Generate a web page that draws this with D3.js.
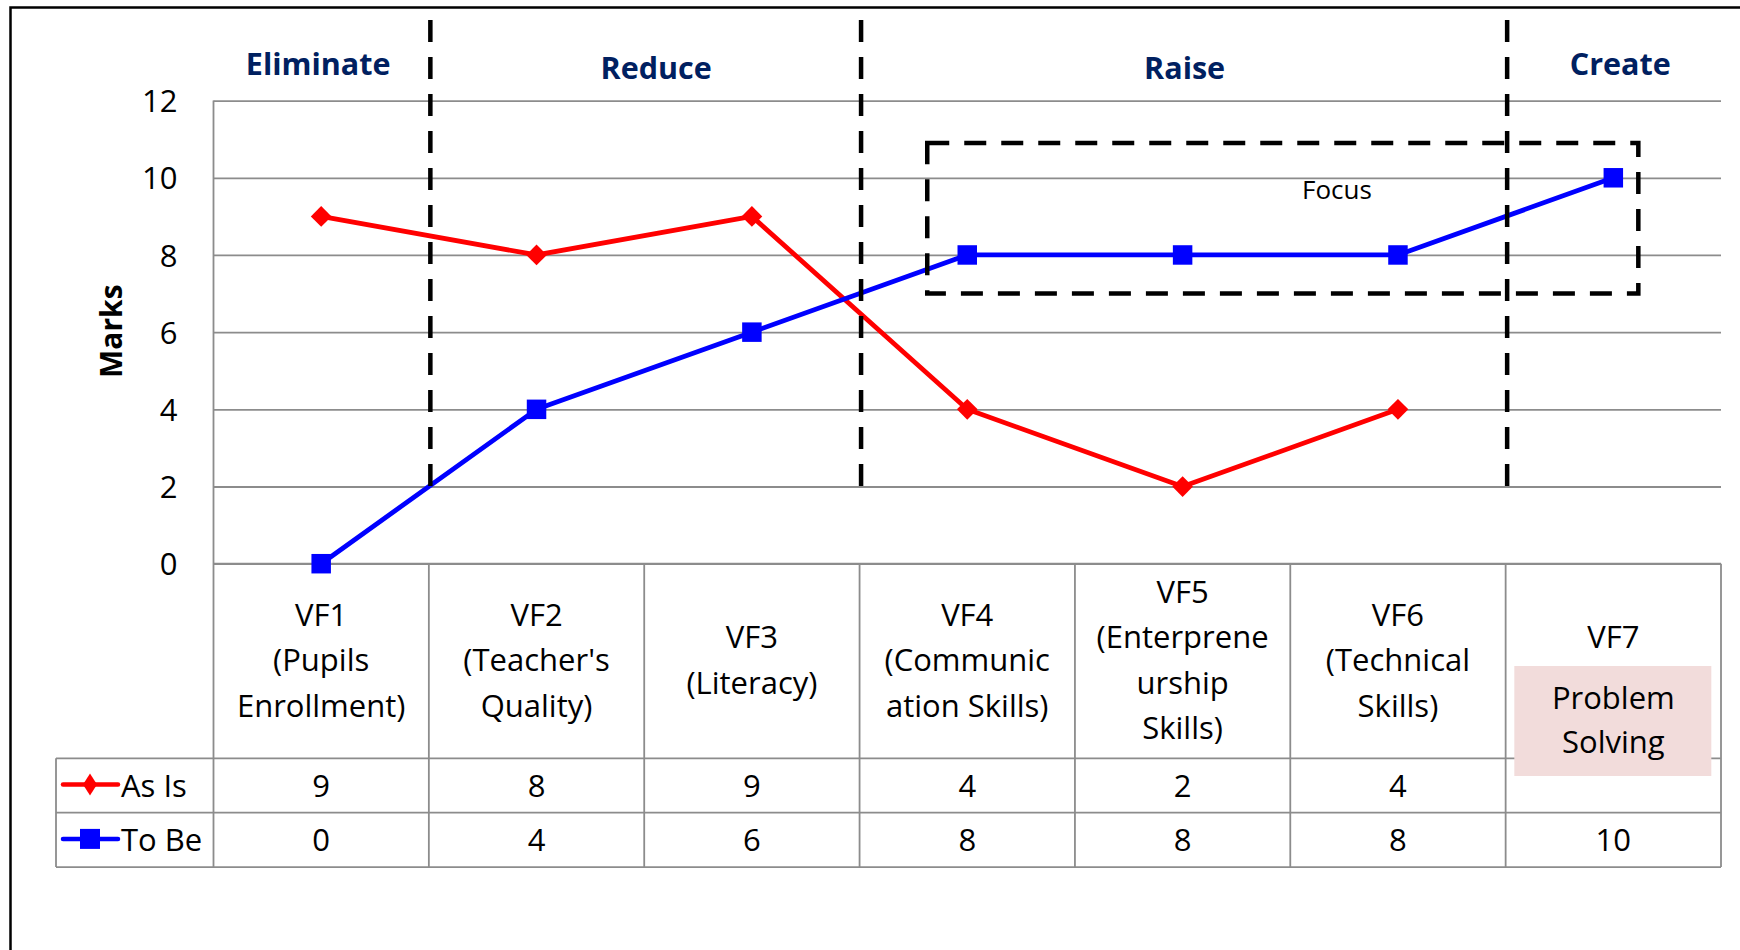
<!DOCTYPE html>
<html>
<head>
<meta charset="utf-8">
<script src="https://cdn.jsdelivr.net/npm/d3@7"></script>
<style>
  body { margin: 0; background: #fff; }
  text { font-family: "Open Sans", Lato, sans-serif; }
</style>
</head>
<body>
<div id="chart"></div>
<script>
// categories (value factors) and their header text, line by line
var categories = ['VF1', 'VF2', 'VF3', 'VF4', 'VF5', 'VF6', 'VF7'];
var categoryLines = [
  ['VF1', '(Pupils', 'Enrollment)'],
  ['VF2', "(Teacher's", 'Quality)'],
  ['VF3', '(Literacy)'],
  ['VF4', '(Communic', 'ation Skills)'],
  ['VF5', '(Enterprene', 'urship', 'Skills)'],
  ['VF6', '(Technical', 'Skills)'],
  ['VF7', '']
];

// series values
var asIs = [9, 8, 9, 4, 2, 4, null];
var toBe = [0, 4, 6, 8, 8, 8, 10];

var yTicks = [0, 2, 4, 6, 8, 10, 12];

// ERRC sections : name + first / last category
var sectionNames = ['Eliminate', 'Reduce', 'Raise', 'Create'];
var sectionFrom = ['VF1', 'VF2', 'VF4', 'VF7'];
var sectionTo = ['VF1', 'VF3', 'VF6', 'VF7'];

// focus box : categories and values it covers
var focusCats = ['VF4', 'VF7'];
var focusVals = [7, 10.9];
var noteLines = ['Problem', 'Solving'];

var W = 1740, H = 950;
var pLeft = 213.5, pRight = 1721, pTop = 100.6, pBottom = 563.7;
var rowH = 54.4, headH = 194.6, legLeft = 56;
var grid = '#8c8c8c', navy = '#002060';
var fs = 31; // table font size

var svg = d3.select('#chart').append('svg').attr('width', W).attr('height', H);

var x = d3.scaleBand().domain(categories).range([pLeft, pRight]).padding(0);
var bw = x.bandwidth();
var cx = function (c) { return x(c) + bw / 2; };
var y = d3.scaleLinear().domain([0, 12]).range([pBottom, pTop]);

// outer frame (left + top)
svg.append('path')
  .attr('d', 'M10.5 ' + H + ' L10.5 7.5 L' + W + ' 7.5')
  .attr('fill', 'none').attr('stroke', '#000').attr('stroke-width', 2.5);

// grid + y axis
var yAxis = svg.append('g').attr('transform', 'translate(' + pLeft + ',0)')
  .call(d3.axisLeft(y).tickValues(yTicks).tickSize(-(pRight - pLeft)).tickPadding(36));
yAxis.select('.domain').remove();
yAxis.selectAll('line').attr('stroke', grid).attr('stroke-width', 1.8);
yAxis.selectAll('text').attr('font-size', fs).attr('fill', '#000')
  .attr('font-family', 'Open Sans').attr('dy', '0.36em');

// left border of the plot / table
svg.append('line').attr('x1', pLeft).attr('x2', pLeft).attr('y1', pTop).attr('y2', pBottom + headH + 2 * rowH)
  .attr('stroke', grid).attr('stroke-width', 1.8);

svg.append('text').attr('transform', 'translate(111,' + ((pTop + pBottom) / 2 - 1) + ') rotate(-90)')
  .attr('text-anchor', 'middle').attr('dy', '0.36em')
  .attr('font-size', 30).attr('font-weight', 'bold').text('Marks');

// ---- table ----
var tb = svg.append('g');
var tBottom = pBottom + headH + 2 * rowH;
// horizontal rules
[pBottom, pBottom + headH, pBottom + headH + rowH, tBottom].forEach(function (yy, i) {
  tb.append('line').attr('x1', i == 0 ? pLeft : legLeft).attr('x2', pRight)
    .attr('y1', yy).attr('y2', yy).attr('stroke', grid).attr('stroke-width', 1.8);
});
// vertical rules
tb.append('line').attr('x1', legLeft).attr('x2', legLeft).attr('y1', pBottom + headH).attr('y2', tBottom)
  .attr('stroke', grid).attr('stroke-width', 1.8);
categories.forEach(function (c) {
  tb.append('line').attr('x1', x(c) + bw).attr('x2', x(c) + bw).attr('y1', pBottom).attr('y2', tBottom)
    .attr('stroke', grid).attr('stroke-width', 1.8);
});

// header text
var hc = pBottom + headH / 2;
categories.forEach(function (c, i) {
  var lines = categoryLines[i];
  var t = tb.append('text').attr('text-anchor', 'middle').attr('font-size', fs);
  lines.forEach(function (l, j) {
    t.append('tspan').attr('x', cx(c)).attr('y', hc + 10 + (j - (lines.length - 1) / 2) * 45.5).text(l);
  });
});

// value rows
var series = [
  { name: 'As Is', values: asIs, color: '#ff0000', diamond: true },
  { name: 'To Be', values: toBe, color: '#0000ff', diamond: false }
];
series.forEach(function (s, k) {
  var rowY = pBottom + headH + rowH * k + rowH / 2;
  categories.forEach(function (c, i) {
    if (s.values[i] == null) return;
    tb.append('text').attr('x', cx(c)).attr('y', rowY + 11).attr('text-anchor', 'middle')
      .attr('font-size', fs).text(s.values[i]);
  });
  // legend key
  tb.append('line').attr('x1', 63).attr('x2', 118).attr('y1', rowY - 1).attr('y2', rowY - 1)
    .attr('stroke', s.color).attr('stroke-width', 4.5).attr('stroke-linecap', 'round');
  if (s.diamond) {
    tb.append('path').attr('d', 'M90 ' + (rowY - 12) + ' L97 ' + (rowY - 1) + ' L90 ' + (rowY + 10) + ' L83 ' + (rowY - 1) + 'Z')
      .attr('fill', s.color);
  } else {
    tb.append('rect').attr('x', 80).attr('y', rowY - 11).attr('width', 20).attr('height', 20).attr('fill', s.color);
  }
  tb.append('text').attr('x', 121).attr('y', rowY + 11).attr('font-size', fs).text(s.name);
});

// pink note box over VF7
var nb = { x: cx('VF7') - 99, y: 666, w: 197, h: 110 };
svg.append('rect').attr('x', nb.x).attr('y', nb.y).attr('width', nb.w).attr('height', nb.h).attr('fill', '#f2dcdb');
var nt = svg.append('text').attr('text-anchor', 'middle').attr('font-size', fs);
noteLines.forEach(function (l, j) {
  nt.append('tspan').attr('x', cx('VF7')).attr('y', nb.y + nb.h / 2 + 10 + (j - 0.5) * 44).text(l);
});

// ---- series lines ----
series.forEach(function (s) {
  var pts = categories.map(function (c, i) { return { c: c, v: s.values[i] }; })
    .filter(function (d) { return d.v != null; });
  svg.append('path').datum(pts)
    .attr('d', d3.line().x(function (d) { return cx(d.c); }).y(function (d) { return y(d.v); }))
    .attr('fill', 'none').attr('stroke', s.color).attr('stroke-width', 4.8).attr('stroke-linejoin', 'round');
  svg.selectAll(null).data(pts).enter().append('path')
    .attr('transform', function (d) {
      return 'translate(' + cx(d.c) + ',' + y(d.v) + ')' + (s.diamond ? ' rotate(45)' : '');
    })
    .attr('d', d3.symbol().type(d3.symbolSquare).size(s.diamond ? 215 : 380))
    .attr('fill', s.color);
});

// ---- focus box ----
var fx0 = cx(focusCats[0]) - 40, fx1 = cx(focusCats[1]) + 25;
svg.append('rect').attr('x', fx0).attr('y', y(focusVals[1])).attr('width', fx1 - fx0)
  .attr('height', y(focusVals[0]) - y(focusVals[1]))
  .attr('fill', 'none').attr('stroke', '#000').attr('stroke-width', 4.5).attr('stroke-dasharray', '22 15');
svg.append('text').attr('x', 1337).attr('y', 199).attr('text-anchor', 'middle').attr('font-size', 26).text('Focus');

// ---- section dividers and titles ----
var secDx = [-3, 12, 2, 7];
sectionNames.forEach(function (n, i) {
  var x0 = x(sectionFrom[i]), x1 = x(sectionTo[i]) + bw;
  svg.append('text').attr('x', (x0 + x1) / 2 + secDx[i]).attr('y', i == 0 || i == 3 ? 74.6 : 79)
    .attr('text-anchor', 'middle').attr('font-size', 30.5).attr('font-weight', 'bold')
    .attr('fill', navy).text(n);
  if (i < sectionNames.length - 1) {
    svg.append('line').attr('x1', x1 + 1.5).attr('x2', x1 + 1.5).attr('y1', 20).attr('y2', y(2))
      .attr('stroke', '#000').attr('stroke-width', 4.5).attr('stroke-dasharray', '22 15');
  }
});
</script>
</body>
</html>
